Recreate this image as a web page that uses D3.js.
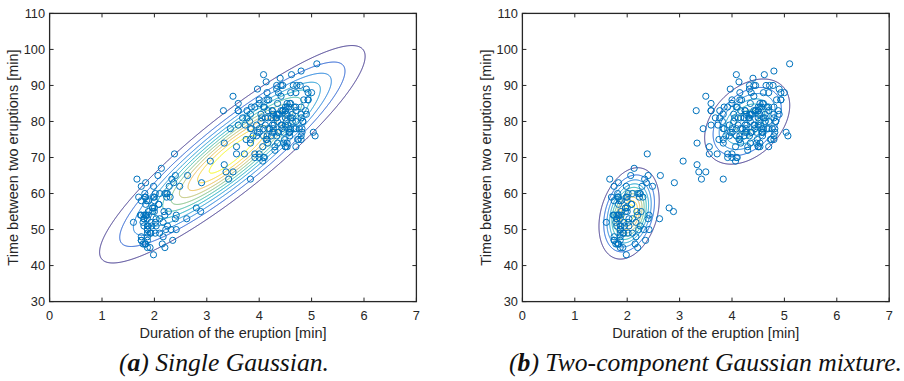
<!DOCTYPE html>
<html>
<head>
<meta charset="utf-8">
<script src="https://cdn.jsdelivr.net/npm/d3@7"></script>
<style>
  body { margin: 0; background: #fff; }
  svg { display: block; }
</style>
</head>
<body>
<svg id="fig" width="904" height="381"></svg>
<script>
// Old Faithful geyser: eruption duration [min] and waiting time to next eruption [min]
const eruptions = [3.600,1.800,3.333,2.283,4.533,2.883,4.700,3.600,1.950,4.350,1.833,3.917,4.200,1.750,4.700,2.167,1.750,4.800,1.600,4.250,
1.800,1.750,3.450,3.067,4.533,3.600,1.967,4.083,3.850,4.433,4.300,4.467,3.367,4.033,3.833,2.017,1.867,4.833,1.833,4.783,
4.350,1.883,4.567,1.750,4.533,3.317,3.833,2.100,4.633,2.000,4.800,4.716,1.833,4.833,1.733,4.883,3.717,1.667,4.567,4.317,
2.233,4.500,1.750,4.800,1.817,4.400,4.167,4.700,2.067,4.700,4.033,1.967,4.500,4.000,1.983,5.067,2.017,4.567,3.883,3.600,
4.133,4.333,4.100,2.633,4.067,4.933,3.950,4.517,2.167,4.000,2.200,4.333,1.867,4.817,1.833,4.300,4.667,3.750,1.867,4.900,
2.483,4.367,2.100,4.500,4.050,1.867,4.700,1.783,4.850,3.683,4.733,2.300,4.900,4.417,1.700,4.633,2.317,4.600,1.817,4.417,
2.617,4.067,4.250,1.967,4.600,3.767,1.917,4.500,2.267,4.650,1.867,4.167,2.800,4.333,1.833,4.383,1.883,4.933,2.033,3.733,
4.233,2.233,4.533,4.817,4.333,1.983,4.633,2.017,5.100,1.800,5.033,4.000,2.400,4.600,3.567,4.000,4.500,4.083,1.800,3.967,
2.200,4.150,2.000,3.833,3.500,4.583,2.367,5.000,1.933,4.617,1.917,2.083,4.583,3.333,4.167,4.333,4.500,2.417,4.000,4.167,
1.883,4.583,4.250,3.767,2.033,4.433,4.083,1.833,4.417,2.183,4.800,1.833,4.800,4.100,3.966,4.233,3.500,4.366,2.250,4.667,
2.100,4.350,4.133,1.867,4.600,1.783,4.367,3.850,1.933,4.500,2.383,4.700,1.867,3.833,3.417,4.233,2.400,4.800,2.000,4.150,
1.867,4.267,1.750,4.483,4.000,4.117,4.083,4.267,3.917,4.550,4.083,2.417,4.183,2.217,4.450,1.883,1.850,4.283,3.950,2.333,
4.150,2.350,4.933,2.900,4.583,3.833,2.083,4.367,2.133,4.350,2.200,4.450,3.567,4.500,4.150,3.817,3.917,4.450,2.000,4.283,
4.767,4.533,1.850,4.250,1.983,2.250,4.750,4.117,2.150,4.417,1.817,4.467];
const waiting = [79,54,74,62,85,55,88,85,51,85,54,84,78,47,83,52,62,84,52,79,
51,47,78,69,74,83,55,76,78,79,73,77,66,80,74,52,48,80,59,90,
80,58,84,58,73,83,64,53,82,59,75,90,54,80,54,83,71,64,77,81,
59,84,48,82,60,92,78,78,65,73,82,56,79,71,62,76,60,78,76,83,
75,82,70,65,73,88,76,80,48,86,60,90,50,78,63,72,84,75,51,82,
62,88,49,83,81,47,84,52,86,81,75,59,89,79,59,81,50,85,59,87,
53,69,77,56,88,81,45,82,55,90,45,83,56,89,46,82,51,86,53,79,
81,60,82,77,76,59,80,49,96,53,77,77,65,81,71,70,81,93,53,89,
45,86,58,78,66,76,63,88,52,93,49,57,77,68,81,81,73,50,85,74,
55,77,83,83,51,78,84,46,83,55,81,57,76,84,77,81,87,77,51,78,
60,82,91,53,78,46,77,84,49,83,71,80,49,75,64,76,53,94,55,76,
50,82,54,75,78,79,78,78,70,79,70,54,86,50,90,54,54,77,79,64,
75,47,86,63,85,82,57,82,67,74,54,83,73,73,88,80,71,83,56,79,
78,84,58,83,43,60,75,81,46,90,46,74];

// Axis ticks and labels
const xTicks = [0, 1, 2, 3, 4, 5, 6, 7];
const yTicks = [30, 40, 50, 60, 70, 80, 90, 100, 110];
const xLabel = "Duration of the eruption [min]";
const yLabel = "Time between two eruptions [min]";

// Contour levels of the two density models
const singleLevels = [0.002, 0.004, 0.006, 0.008, 0.010, 0.012, 0.014, 0.016, 0.018, 0.020, 0.022];
const mixtureLevels = [0.005, 0.010, 0.015, 0.020, 0.025, 0.030, 0.035, 0.040, 0.045, 0.050];

// Two-component mixture parameters (short / long eruptions)
const mixWeight = [0.5, 0.5];
const mixMeanX = [2.036, 4.290];
const mixMeanY = [54.48, 79.97];
const mixVarX = [0.0692, 0.1700];
const mixVarY = [33.70, 36.05];
const mixCovXY = [0.4352, 0.9406];

// Parula colour map anchors
const parulaStops = [
  [0.2081,0.1663,0.5292],[0.1959,0.2645,0.7279],[0.0117,0.3875,0.8820],[0.0498,0.4586,0.8641],
  [0.0793,0.5200,0.8312],[0.0343,0.5966,0.8199],[0.0228,0.6535,0.7768],[0.0843,0.6928,0.7062],
  [0.2178,0.7250,0.6193],[0.3953,0.7459,0.5244],[0.5709,0.7485,0.4494],[0.7184,0.7411,0.3905],
  [0.8507,0.7299,0.3360],[0.9739,0.7314,0.2666],[0.9880,0.8066,0.1794],[0.9589,0.8949,0.1132],
  [0.9763,0.9831,0.0538]];
const parulaPos = [0,4,8,12,16,20,24,28,32,36,40,44,48,52,56,60,63].map(i => i / 63);
const parula = d3.scaleLinear()
  .domain(parulaPos)
  .range(parulaStops.map(c => d3.rgb(c[0]*255, c[1]*255, c[2]*255).toString()))
  .interpolate(d3.interpolateRgb)
  .clamp(true);

function gauss(x, y, mx, my, vx, vy, c) {
  const det = vx * vy - c * c;
  const dx = x - mx, dy = y - my;
  const q = (vy * dx * dx - 2 * c * dx * dy + vx * dy * dy) / det;
  return Math.exp(-q / 2) / (2 * Math.PI * Math.sqrt(det));
}

// Single Gaussian fitted by maximum likelihood
const n = eruptions.length;
const mX = d3.mean(eruptions), mY = d3.mean(waiting);
let sxx = 0, syy = 0, sxy = 0;
for (let i = 0; i < n; i++) {
  const a = eruptions[i] - mX, b = waiting[i] - mY;
  sxx += a * a; syy += b * b; sxy += a * b;
}
sxx /= n; syy /= n; sxy /= n;
const singleDensity = (x, y) => gauss(x, y, mX, mY, sxx, syy, sxy);
const mixtureDensity = (x, y) => d3.sum(mixWeight, (w, k) =>
  w * gauss(x, y, mixMeanX[k], mixMeanY[k], mixVarX[k], mixVarY[k], mixCovXY[k]));

const svg = d3.select("#fig");
const ink = "#262626";
const plotTop = 13.4, plotBottom = 301.6, plotW = 366.8;

const panels = [
  { left: 49.6, density: singleDensity, levels: singleLevels },
  { left: 522.4, density: mixtureDensity, levels: mixtureLevels }
];

// evaluation grid
const gx0 = 0, gx1 = 7, gdx = 0.01;
const gy0 = 30, gy1 = 110, gdy = 0.1;
const nx = Math.round((gx1 - gx0) / gdx) + 1;
const ny = Math.round((gy1 - gy0) / gdy) + 1;

panels.forEach(p => {
  const xs = d3.scaleLinear().domain([0, 7]).range([p.left, p.left + plotW]);
  const ys = d3.scaleLinear().domain([30, 110]).range([plotBottom, plotTop]);
  const g = svg.append("g");

  // density surface and its contour lines
  const values = new Float64Array(nx * ny);
  for (let j = 0; j < ny; j++) {
    const y = gy0 + j * gdy;
    for (let i = 0; i < nx; i++) values[j * nx + i] = p.density(gx0 + i * gdx, y);
  }
  const contours = d3.contours().size([nx, ny]).thresholds(p.levels)(values);
  const proj = d3.geoTransform({
    point(px, py) { this.stream.point(xs(gx0 + (px - 0.5) * gdx), ys(gy0 + (py - 0.5) * gdy)); }
  });
  const path = d3.geoPath(proj);
  const lmin = d3.min(p.levels), lmax = d3.max(p.levels);
  g.append("g").selectAll("path").data(contours).join("path")
    .attr("d", path)
    .attr("fill", "none")
    .attr("stroke", d => parula((d.value - lmin) / (lmax - lmin)))
    .attr("stroke-width", 1);

  // observations
  g.append("g").selectAll("circle").data(eruptions).join("circle")
    .attr("cx", d => xs(d))
    .attr("cy", (d, i) => ys(waiting[i]))
    .attr("r", 3.1)
    .attr("fill", "none")
    .attr("stroke", "#0072BD")
    .attr("stroke-width", 1);

  // box and ticks (inside, on all four sides)
  const tl = 4;
  g.append("rect")
    .attr("x", xs(0)).attr("y", plotTop)
    .attr("width", plotW).attr("height", plotBottom - plotTop)
    .attr("fill", "none").attr("stroke", ink).attr("stroke-width", 1.3);
  const tk = g.append("g").attr("stroke", ink).attr("stroke-width", 1);
  xTicks.forEach(t => {
    tk.append("line").attr("x1", xs(t)).attr("x2", xs(t)).attr("y1", plotBottom).attr("y2", plotBottom - tl);
    tk.append("line").attr("x1", xs(t)).attr("x2", xs(t)).attr("y1", plotTop).attr("y2", plotTop + tl);
  });
  yTicks.forEach(t => {
    tk.append("line").attr("y1", ys(t)).attr("y2", ys(t)).attr("x1", xs(0)).attr("x2", xs(0) + tl);
    tk.append("line").attr("y1", ys(t)).attr("y2", ys(t)).attr("x1", xs(7)).attr("x2", xs(7) - tl);
  });

  const font = "'Liberation Sans', Arial, Helvetica, sans-serif";
  g.append("g").selectAll("text").data(xTicks).join("text")
    .attr("x", d => xs(d)).attr("y", plotBottom + 18)
    .attr("text-anchor", "middle")
    .attr("font-family", font).attr("font-size", 12.8).attr("fill", ink)
    .text(d => d);
  g.append("g").selectAll("text").data(yTicks).join("text")
    .attr("x", xs(0) - 4.5).attr("y", d => ys(d))
    .attr("dy", "0.35em")
    .attr("text-anchor", "end")
    .attr("font-family", font).attr("font-size", 12.8).attr("fill", ink)
    .text(d => d);

  g.append("text")
    .attr("x", (xs(0) + xs(7)) / 2).attr("y", 337.5)
    .attr("text-anchor", "middle")
    .attr("font-family", font).attr("font-size", 14.5).attr("fill", ink)
    .text(xLabel);
  g.append("text")
    .attr("transform", `translate(${xs(0) - 31.3},${(plotTop + plotBottom) / 2}) rotate(-90)`)
    .attr("text-anchor", "middle")
    .attr("font-family", font).attr("font-size", 14.5).attr("fill", ink)
    .text(yLabel);
});

// sub-figure captions
const captionTag = ["a", "b"];
const captionText = [" Single Gaussian.", " Two-component Gaussian mixture."];
const capFont = "'Liberation Serif', serif";
const caps = captionTag.map((tag, k) => {
  const t = svg.append("text")
    .attr("y", 370.5)
    .attr("font-family", capFont).attr("font-size", 25).attr("font-style", "italic")
    .attr("fill", "#111");
  t.append("tspan").text("(");
  t.append("tspan").attr("font-weight", "bold").text(tag);
  t.append("tspan").text(")" + captionText[k]);
  return t;
});
const wA = caps[0].node().getComputedTextLength();
const wB = caps[1].node().getComputedTextLength();
const scale = 210 / wA;
caps[0].attr("x", 119).attr("textLength", 210).attr("lengthAdjust", "spacingAndGlyphs");
caps[1].attr("x", 902 - wB * scale).attr("textLength", wB * scale).attr("lengthAdjust", "spacingAndGlyphs");
</script>
</body>
</html>
